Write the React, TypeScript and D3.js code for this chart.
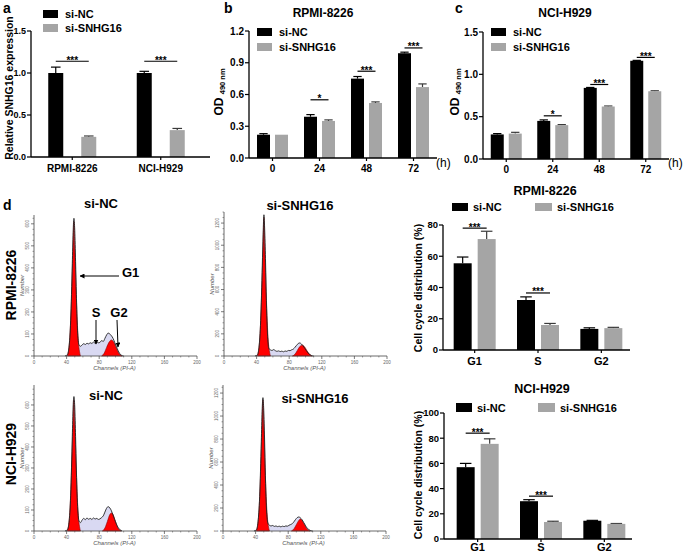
import React from "react";
import * as d3 from "d3";

const FONT = "Arial, 'Liberation Sans', Helvetica, sans-serif";
const C_NC = "#000000";
const C_KD = "#a5a5a5";
const SERIES = ["si-NC", "si-SNHG16"];

// ---- panel a ----
const aCategories = ["RPMI-8226", "NCI-H929"];
const aSiNC = [1.0, 1.0];
const aSiNCErr = [0.07, 0.02];
const aSiSNHG16 = [0.24, 0.32];
const aSiSNHG16Err = [0.01, 0.02];
const aSig = ["***", "***"];
const aSigLevel = [1.14, 1.14];
const aTicks = [0, 0.5, 1.0, 1.5];

// ---- panel b ----
const timePoints = ["0", "24", "48", "72"];
const bSiNC = [0.22, 0.39, 0.75, 0.99];
const bSiNCErr = [0.01, 0.02, 0.02, 0.01];
const bSiSNHG16 = [0.22, 0.35, 0.52, 0.67];
const bSiSNHG16Err = [0, 0.01, 0.01, 0.03];
const bSig = ["", "*", "***", "***"];
const bSigLevel = [0, 0.55, 0.82, 1.04];
const bTicks = [0, 0.3, 0.6, 0.9, 1.2];

// ---- panel c ----
const cSiNC = [0.29, 0.45, 0.84, 1.16];
const cSiNCErr = [0.01, 0.012, 0.005, 0.005];
const cSiSNHG16 = [0.3, 0.4, 0.62, 0.8];
const cSiSNHG16Err = [0.015, 0.006, 0.006, 0.006];
const cSig = ["", "*", "***", "***"];
const cSigLevel = [0, 0.51, 0.88, 1.2];
const cTicks = [0, 0.5, 1.0, 1.5];

// ---- panel d, cell cycle bars ----
const phases = ["G1", "S", "G2"];
const rpmiSiNC = [55.5, 32, 13.5];
const rpmiSiNCErr = [4, 2, 0.7];
const rpmiSiSNHG16 = [71, 16, 14];
const rpmiSiSNHG16Err = [5, 1, 0.5];
const rpmiSig = ["***", "***", ""];
const rpmiSigLevel = [78, 36.5, 0];
const rpmiTicks = [0, 20, 40, 60, 80];

const nciSiNC = [57, 30, 14.5];
const nciSiNCErr = [3, 1.2, 0.3];
const nciSiSNHG16 = [75.5, 13.5, 12];
const nciSiSNHG16Err = [4, 0.6, 0.3];
const nciSig = ["***", "***", ""];
const nciSigLevel = [84, 34, 0];
const nciTicks = [0, 20, 40, 60, 80, 100];

// ---- panel d, flow histograms: [channel, count] ----
const chTicks = [0, 40, 80, 120, 160, 200];

const rpmiNcOutline = [[38,0],[41,6],[43,40],[45,160],[47,420],[48,560],[49,625],[50,570],[51,430],[52,280],[53,150],[54,80],[55,52],[57,44],[59,50],[61,56],[63,52],[65,58],[67,55],[69,60],[71,57],[73,63],[75,58],[77,64],[79,60],[81,62],[83,70],[85,66],[87,80],[89,95],[91,104],[93,100],[95,92],[97,80],[99,62],[101,44],[103,26],[105,12],[107,4],[110,0]];
const rpmiNcG1 = [[41,0],[44,90],[46,260],[48,500],[49,610],[50,500],[52,260],[54,90],[57,0]];
const rpmiNcG2 = [[83,0],[86,12],[89,38],[92,62],[95,73],[98,62],[101,36],[104,12],[108,0]];
const rpmiNcTicks = [0, 100, 200, 300, 400, 500, 600];

const rpmiKdOutline = [[38,0],[41,10],[43,80],[45,320],[47,820],[48,1100],[49,1275],[50,1120],[51,840],[52,500],[53,260],[54,120],[55,70],[57,55],[59,50],[61,58],[63,48],[65,42],[67,46],[69,40],[71,44],[73,38],[75,45],[77,42],[79,50],[81,48],[83,56],[85,62],[87,78],[89,96],[91,112],[93,118],[95,108],[97,92],[99,70],[101,48],[103,28],[105,14],[107,5],[110,0]];
const rpmiKdG1 = [[41,0],[44,170],[46,520],[48,1000],[49,1250],[50,1000],[52,520],[54,170],[57,0]];
const rpmiKdG2 = [[84,0],[87,15],[90,50],[93,85],[96,98],[99,82],[102,45],[105,15],[108,0]];
const rpmiKdTicks = [0, 200, 400, 600, 800, 1000, 1200];

const nciNcOutline = [[38,0],[41,6],[43,40],[45,170],[47,450],[48,590],[49,640],[50,590],[51,450],[52,290],[53,160],[54,85],[55,50],[57,40],[59,52],[61,60],[63,54],[65,62],[67,56],[69,60],[71,55],[73,62],[75,57],[77,60],[79,55],[81,58],[83,64],[85,72],[87,90],[89,108],[91,116],[93,110],[95,96],[97,76],[99,54],[101,34],[103,18],[105,8],[108,0]];
const nciNcG1 = [[41,0],[44,95],[46,280],[48,520],[49,625],[50,520],[52,280],[54,95],[57,0]];
const nciNcG2 = [[84,0],[87,14],[90,45],[93,78],[95,86],[97,78],[100,45],[103,14],[107,0]];
const nciNcTicks = [0, 100, 200, 300, 400, 500, 600];

const nciKdOutline = [[38,0],[41,10],[43,80],[45,300],[47,780],[48,1040],[49,1160],[50,1050],[51,800],[52,480],[53,250],[54,120],[55,70],[57,50],[59,44],[61,48],[63,40],[65,44],[67,38],[69,42],[71,36],[73,42],[75,38],[77,44],[79,42],[81,50],[83,56],[85,64],[87,80],[89,100],[91,116],[93,122],[95,114],[97,98],[99,74],[101,50],[103,28],[105,14],[107,5],[110,0]];
const nciKdG1 = [[41,0],[44,160],[46,480],[48,940],[49,1140],[50,940],[52,480],[54,160],[57,0]];
const nciKdG2 = [[84,0],[87,18],[90,55],[93,92],[95,104],[97,92],[100,55],[103,18],[107,0]];
const nciKdTicks = [0, 200, 400, 600, 800, 1000, 1200];

type BarsProps = {
  cats: string[]; v1: number[]; e1: number[]; v2: number[]; e2: number[];
  sig: string[]; sigLevel: number[];
  axisX: number; axisRight: number; band: [number, number];
  yBottom: number; yTop: number; yMax: number; ticks: number[];
  fmt: (v: number) => string; barW: number; half: number;
  tickFont: number; catFont: number; catY: number;
};

function Bars(p: BarsProps) {
  const y = d3.scaleLinear().domain([0, p.yMax]).range([p.yBottom, p.yTop]);
  const x = d3.scaleBand().domain(p.cats).range(p.band).padding(0);
  const cx = (c: string) => (x(c) as number) + x.bandwidth() / 2;
  const cap = p.barW * 0.32;
  return (
    <g fontFamily={FONT}>
      {p.cats.map((c, i) => {
        const c0 = cx(c);
        const x1 = c0 - p.half - p.barW;
        const x2 = c0 + p.half;
        const m1 = x1 + p.barW / 2;
        const m2 = x2 + p.barW / 2;
        return (
          <g key={c}>
            {p.e1[i] > 0 && (
              <g stroke="#000" strokeWidth={1.2}>
                <line x1={m1} x2={m1} y1={y(p.v1[i])} y2={y(p.v1[i] + p.e1[i])} />
                <line x1={m1 - cap} x2={m1 + cap} y1={y(p.v1[i] + p.e1[i])} y2={y(p.v1[i] + p.e1[i])} />
              </g>
            )}
            {p.e2[i] > 0 && (
              <g stroke="#3a3a3a" strokeWidth={1.2}>
                <line x1={m2} x2={m2} y1={y(p.v2[i])} y2={y(p.v2[i] + p.e2[i])} />
                <line x1={m2 - cap} x2={m2 + cap} y1={y(p.v2[i] + p.e2[i])} y2={y(p.v2[i] + p.e2[i])} />
              </g>
            )}
            <rect x={x1} width={p.barW} y={y(p.v1[i])} height={p.yBottom - y(p.v1[i])} fill={C_NC} />
            <rect x={x2} width={p.barW} y={y(p.v2[i])} height={p.yBottom - y(p.v2[i])} fill={C_KD} />
            {p.sig[i] && (
              <g>
                <line x1={m1} x2={m2} y1={y(p.sigLevel[i])} y2={y(p.sigLevel[i])} stroke="#000" strokeWidth={1.2} />
                <text x={(m1 + m2) / 2} y={y(p.sigLevel[i]) + 2.5} textAnchor="middle" fontSize={10} fontWeight="bold">{p.sig[i]}</text>
              </g>
            )}
            <line x1={c0} x2={c0} y1={p.yBottom} y2={p.yBottom + 3} stroke="#000" strokeWidth={1.2} />
            <text x={c0} y={p.catY} textAnchor="middle" fontSize={p.catFont} fontWeight="bold">{c}</text>
          </g>
        );
      })}
      <line x1={p.axisX} x2={p.axisX} y1={p.yBottom} y2={y(p.yMax)} stroke="#000" strokeWidth={1.3} />
      <line x1={p.axisX} x2={p.axisRight} y1={p.yBottom} y2={p.yBottom} stroke="#000" strokeWidth={1.3} />
      {p.ticks.map((t) => (
        <g key={t}>
          <line x1={p.axisX - 4} x2={p.axisX} y1={y(t)} y2={y(t)} stroke="#000" strokeWidth={1.2} />
          <text x={p.axisX - 5} y={y(t)} dy="0.35em" textAnchor="end" fontSize={p.tickFont} fontWeight="bold">{p.fmt(t)}</text>
        </g>
      ))}
    </g>
  );
}

type FlowProps = {
  ax: number; yTop: number; yBottom: number; yMax: number; ticks: number[];
  outline: number[][]; g1: number[][]; g2: number[][];
  title: string; titleX: number; titleY: number;
};

function Flow(p: FlowProps) {
  const x = d3.scaleLinear().domain([0, 200]).range([p.ax, p.ax + 163]);
  const y = d3.scaleLinear().domain([0, p.yMax]).range([p.yBottom, p.yTop]);
  const area = d3.area<number[]>().x((d) => x(d[0])).y0(y(0)).y1((d) => y(d[1])).curve(d3.curveMonotoneX);
  const line = d3.line<number[]>().x((d) => x(d[0])).y((d) => y(d[1])).curve(d3.curveMonotoneX);
  const step = p.ticks[1] - p.ticks[0];
  const minorY: number[] = [];
  p.ticks.forEach((t) => { for (let k = 1; k < 4; k++) { const v = t + (k * step) / 4; if (v <= p.yMax) minorY.push(v); } });
  const minorX: number[] = [];
  chTicks.forEach((t) => { for (let k = 1; k < 4; k++) { const v = t + k * 10; if (v < 200) minorX.push(v); } });
  return (
    <g fontFamily={FONT}>
      <path d={area(p.outline) || ""} fill="#d9d9f2" />
      <path d={area(p.g1) || ""} fill="#ff0000" stroke="#8b0000" strokeWidth={0.6} />
      <path d={area(p.g2) || ""} fill="#ff0000" stroke="#8b0000" strokeWidth={0.6} />
      <path d={line(p.outline) || ""} fill="none" stroke="#222" strokeWidth={0.9} />
      <line x1={p.ax} x2={p.ax} y1={p.yBottom} y2={p.yTop} stroke="#444" strokeWidth={0.8} />
      <line x1={p.ax} x2={x(200)} y1={p.yBottom} y2={p.yBottom} stroke="#444" strokeWidth={0.8} />
      {p.ticks.map((t) => (
        <g key={t}>
          <line x1={p.ax - 3} x2={p.ax} y1={y(t)} y2={y(t)} stroke="#444" strokeWidth={0.7} />
          <text transform={`translate(${p.ax - 5},${y(t)}) rotate(-90)`} textAnchor="middle" fontSize={4.5} fill="#666">{t}</text>
        </g>
      ))}
      {minorY.map((t) => (
        <line key={"m" + t} x1={p.ax - 1.5} x2={p.ax} y1={y(t)} y2={y(t)} stroke="#444" strokeWidth={0.5} />
      ))}
      {chTicks.map((t) => (
        <g key={"x" + t}>
          <line x1={x(t)} x2={x(t)} y1={p.yBottom} y2={p.yBottom + 3} stroke="#444" strokeWidth={0.7} />
          <text x={x(t)} y={p.yBottom + 8} textAnchor="middle" fontSize={4.5} fill="#666">{t}</text>
        </g>
      ))}
      {minorX.map((t) => (
        <line key={"mx" + t} x1={x(t)} x2={x(t)} y1={p.yBottom} y2={p.yBottom + 1.5} stroke="#444" strokeWidth={0.5} />
      ))}
      <text transform={`translate(${p.ax - 10},${(p.yTop + p.yBottom) / 2}) rotate(-90)`} textAnchor="middle" fontSize={6} fontStyle="italic" fill="#555">Number</text>
      <text x={x(100) - 1} y={p.yBottom + 14} textAnchor="middle" fontSize={6} fontStyle="italic" fill="#555">Channels (PI-A)</text>
      <text x={p.titleX} y={p.titleY} textAnchor="middle" fontSize={13} fontWeight="bold">{p.title}</text>
    </g>
  );
}

function LegendV({ x, y1, y2, tx }: { x: number; y1: number; y2: number; tx: number }) {
  return (
    <g fontFamily={FONT} fontWeight="bold" fontSize={11}>
      <rect x={x} y={y1} width={15} height={8} fill={C_NC} />
      <text x={tx} y={y1 + 8}>{SERIES[0]}</text>
      <rect x={x} y={y2} width={15} height={8} fill={C_KD} />
      <text x={tx} y={y2 + 8}>{SERIES[1]}</text>
    </g>
  );
}

function LegendH({ x1, x2, y, w, h }: { x1: number; x2: number; y: number; w: number; h: number }) {
  return (
    <g fontFamily={FONT} fontWeight="bold" fontSize={11}>
      <rect x={x1} y={y} width={w} height={h} fill={C_NC} />
      <text x={x1 + w + 5} y={y + h / 2 + 4}>{SERIES[0]}</text>
      <rect x={x2} y={y} width={w + 1} height={h} fill={C_KD} />
      <text x={x2 + w + 6} y={y + h / 2 + 4}>{SERIES[1]}</text>
    </g>
  );
}

export default function App() {
  const f1 = (v: number) => v.toFixed(1);
  const f0 = (v: number) => String(v);
  return (
    <svg width={685} height={554} style={{ position: "absolute", left: 0, top: 0, background: "#fff" }} fontFamily={FONT}>
      <defs>
        <marker id="ah" viewBox="0 0 10 10" refX="9" refY="5" markerWidth="5" markerHeight="5" orient="auto">
          <path d="M0,0 L10,5 L0,10 z" fill="#000" />
        </marker>
      </defs>
      {/* panel labels */}
      <g fontWeight="bold" fontSize={14}>
        <text x={3} y={13}>a</text>
        <text x={224} y={13}>b</text>
        <text x={455} y={13}>c</text>
        <text x={3} y={210}>d</text>
      </g>

      {/* panel a */}
      <LegendV x={43} y1={10} y2={24} tx={65} />
      <text transform="translate(13,88) rotate(-90)" textAnchor="middle" fontSize={10.5} fontWeight="bold">Relative SNHG16 expression</text>
      <Bars cats={aCategories} v1={aSiNC} e1={aSiNCErr} v2={aSiSNHG16} e2={aSiSNHG16Err}
        sig={aSig} sigLevel={aSigLevel} axisX={31} axisRight={210} band={[28, 205]}
        yBottom={157} yTop={31} yMax={1.5} ticks={aTicks} fmt={f1} barW={15} half={9}
        tickFont={9} catFont={10} catY={172} />

      {/* panel b */}
      <text x={323} y={17} textAnchor="middle" fontSize={12} fontWeight="bold">RPMI-8226</text>
      <LegendV x={257} y1={28} y2={43} tx={279} />
      <text transform="translate(223,92) rotate(-90)" textAnchor="middle" fontWeight="bold">
        <tspan fontSize={12}>OD </tspan><tspan fontSize={7.5} dy={2}>490 nm</tspan>
      </text>
      <Bars cats={timePoints} v1={bSiNC} e1={bSiNCErr} v2={bSiSNHG16} e2={bSiSNHG16Err}
        sig={bSig} sigLevel={bSigLevel} axisX={249} axisRight={437} band={[249, 437]}
        yBottom={158} yTop={31} yMax={1.2} ticks={bTicks} fmt={f1} barW={13} half={2.5}
        tickFont={10} catFont={10} catY={172} />
      <text x={436} y={167} fontSize={12}>(h)</text>

      {/* panel c */}
      <text x={565} y={17} textAnchor="middle" fontSize={12} fontWeight="bold">NCI-H929</text>
      <LegendV x={491} y1={28} y2={43} tx={513} />
      <text transform="translate(459,92) rotate(-90)" textAnchor="middle" fontWeight="bold">
        <tspan fontSize={12}>OD </tspan><tspan fontSize={7.5} dy={2}>490 nm</tspan>
      </text>
      <Bars cats={timePoints} v1={cSiNC} e1={cSiNCErr} v2={cSiSNHG16} e2={cSiSNHG16Err}
        sig={cSig} sigLevel={cSigLevel} axisX={483} axisRight={669} band={[483, 669]}
        yBottom={159} yTop={32} yMax={1.5} ticks={cTicks} fmt={f1} barW={13} half={2.5}
        tickFont={10} catFont={10} catY={173} />
      <text x={668} y={167} fontSize={12}>(h)</text>

      {/* panel d row labels */}
      <text transform="translate(16,285) rotate(-90)" textAnchor="middle" fontSize={14} fontWeight="bold">RPMI-8226</text>
      <text transform="translate(16,454) rotate(-90)" textAnchor="middle" fontSize={14} fontWeight="bold">NCI-H929</text>

      {/* flow histograms */}
      <Flow ax={34} yTop={215} yBottom={356} yMax={640} ticks={rpmiNcTicks}
        outline={rpmiNcOutline} g1={rpmiNcG1} g2={rpmiNcG2} title="si-NC" titleX={101} titleY={208} />
      <Flow ax={224} yTop={212} yBottom={356} yMax={1300} ticks={rpmiKdTicks}
        outline={rpmiKdOutline} g1={rpmiKdG1} g2={rpmiKdG2} title="si-SNHG16" titleX={300} titleY={210} />
      <Flow ax={34} yTop={385} yBottom={531} yMax={695} ticks={nciNcTicks}
        outline={nciNcOutline} g1={nciNcG1} g2={nciNcG2} title="si-NC" titleX={106} titleY={400} />
      <Flow ax={223} yTop={385} yBottom={531} yMax={1270} ticks={nciKdTicks}
        outline={nciKdOutline} g1={nciKdG1} g2={nciKdG2} title="si-SNHG16" titleX={315} titleY={403} />

      {/* phase annotations */}
      <g fontWeight="bold" fontSize={13}>
        <text x={122} y={277}>G1</text>
        <text x={96} y={317} textAnchor="middle">S</text>
        <text x={119} y={317} textAnchor="middle">G2</text>
      </g>
      <g stroke="#000" strokeWidth={1}>
        <line x1={119} y1={276} x2={80} y2={276} markerEnd="url(#ah)" />
        <line x1={96} y1={320} x2={96} y2={344} markerEnd="url(#ah)" />
        <line x1={117} y1={320} x2={118} y2={347} markerEnd="url(#ah)" />
      </g>

      {/* cell cycle bars RPMI */}
      <text x={545} y={195} textAnchor="middle" fontSize={12.5} fontWeight="bold">RPMI-8226</text>
      <LegendH x1={452} x2={535} y={203} w={16} h={8} />
      <text transform="translate(422,288) rotate(-90)" textAnchor="middle" fontSize={10.5} fontWeight="bold">Cell cycle distribution (%)</text>
      <Bars cats={phases} v1={rpmiSiNC} e1={rpmiSiNCErr} v2={rpmiSiSNHG16} e2={rpmiSiSNHG16Err}
        sig={rpmiSig} sigLevel={rpmiSigLevel} axisX={443} axisRight={630} band={[443, 633]}
        yBottom={350} yTop={225} yMax={80} ticks={rpmiTicks} fmt={f0} barW={18} half={3}
        tickFont={9.5} catFont={11} catY={365} />

      {/* cell cycle bars NCI */}
      <text x={542} y={393} textAnchor="middle" fontSize={12.5} fontWeight="bold">NCI-H929</text>
      <LegendH x1={456} x2={538} y={403} w={16} h={9} />
      <text transform="translate(422,475) rotate(-90)" textAnchor="middle" fontSize={10.5} fontWeight="bold">Cell cycle distribution (%)</text>
      <Bars cats={phases} v1={nciSiNC} e1={nciSiNCErr} v2={nciSiSNHG16} e2={nciSiSNHG16Err}
        sig={nciSig} sigLevel={nciSigLevel} axisX={444} axisRight={632} band={[446, 636]}
        yBottom={539} yTop={413} yMax={100} ticks={nciTicks} fmt={f0} barW={18} half={3}
        tickFont={9.5} catFont={11} catY={551} />
    </svg>
  );
}
